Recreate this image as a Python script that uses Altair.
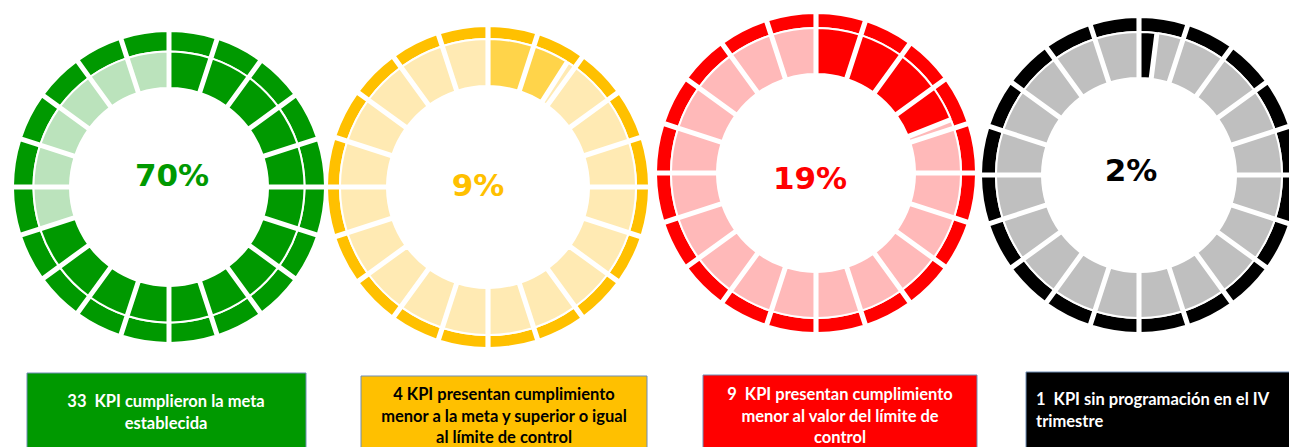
import math
import altair as alt
import pandas as pd

# ---------------- data ----------------
gauges = ["verde", "amarillo", "rojo", "negro"]
pct_values = [70, 9, 19, 2]
pct_labels = ["70%", "9%", "19%", "2%"]
box_texts = [
    "33\u00a0\u00a0KPI cumplieron la meta\nestablecida",
    "4 KPI presentan cumplimiento\nmenor a la meta y superior o igual\nal límite de control",
    "9\u00a0\u00a0KPI presentan cumplimiento\nmenor al valor del límite de\ncontrol",
    "1\u00a0\u00a0KPI sin programación en el IV\ntrimestre",
]
n_segments = 20

# ---------------- styles ----------------
ring_colors = ["#009900", "#FFC000", "#FF0000", "#000000"]
fill_colors = ["#009900", "#FFD44A", "#FF0000", "#000000"]
light_colors = ["#BBE3BC", "#FFEAB3", "#FFB9B9", "#BFBFBF"]
pct_colors = ["#009900", "#FFC000", "#FF0000", "#000000"]
box_fill = ["#009900", "#FFC000", "#FF0000", "#000000"]
box_text_color = ["#FFFFFF", "#000000", "#FFFFFF", "#FFFFFF"]
box_align = ["center", "center", "center", "left"]

# ---------------- layout (page px minus 8px margin) ----------------
M = 8
centers = [(169, 187), (488, 187), (816, 173), (1139, 175)]
inner_r = [99, 101, 99, 97]
split_r = [135.5, 148, 145, 143]
outer_r = [156, 161, 160, 158]
pct_pos = [(172, 177), (478, 187), (810, 180), (1131, 172)]
boxes = [(27, 306, 373, 470), (361, 647, 376, 470), (703, 977, 375, 470), (1026, 1310, 372, 470)]
text_pos = [(166, 402), (504, 395), (840, 395), (1036, 400)]

seg = 2 * math.pi / n_segments
outer_rows, inner_rows = [], []
for g, name in enumerate(gauges):
    cx, cy = centers[g]
    cut = pct_values[g] / 100 * 2 * math.pi
    for i in range(n_segments):
        a0, a1 = i * seg, (i + 1) * seg
        outer_rows.append(dict(g=name, t0=a0, t1=a1, r0=split_r[g], r1=outer_r[g],
                               x=cx - M, y=cy - M, c=ring_colors[g]))
        if cut > a0:
            inner_rows.append(dict(g=name, t0=a0, t1=min(a1, cut), r0=inner_r[g], r1=split_r[g],
                                   x=cx - M, y=cy - M, c=fill_colors[g]))
        if cut < a1:
            inner_rows.append(dict(g=name, t0=max(a0, cut), t1=a1, r0=inner_r[g], r1=split_r[g],
                                   x=cx - M, y=cy - M, c=light_colors[g]))

outer_df = pd.DataFrame(outer_rows)
inner_df = pd.DataFrame(inner_rows)


def arc_layer(df, pad):
    return alt.Chart(df).mark_arc(stroke="white", strokeWidth=2, padAngle=pad).encode(
        x=alt.X("x:Q", scale=None),
        y=alt.Y("y:Q", scale=None),
        theta=alt.Theta("t0:Q", scale=None),
        theta2="t1:Q",
        radius=alt.Radius("r0:Q", scale=None),
        radius2="r1:Q",
        color=alt.Color("c:N", scale=None),
    )


outer_layer = arc_layer(outer_df, 0.0145)
inner_layer = arc_layer(inner_df, 0.0175)

pct_df = pd.DataFrame(dict(
    label=pct_labels,
    x=[p[0] - M for p in pct_pos],
    y=[p[1] - M for p in pct_pos],
    c=pct_colors,
))
pct_layer = alt.Chart(pct_df).mark_text(
    font="DejaVu Sans", fontWeight="bold", fontSize=31, baseline="middle", align="center"
).encode(
    x=alt.X("x:Q", scale=None), y=alt.Y("y:Q", scale=None),
    text="label:N", color=alt.Color("c:N", scale=None),
)

box_df = pd.DataFrame(dict(
    x=[b[0] - M for b in boxes], x2=[b[1] - M for b in boxes],
    y=[b[2] - M for b in boxes], y2=[b[3] - M for b in boxes],
    c=box_fill,
))
box_layer = alt.Chart(box_df).mark_rect(stroke="#6E8DB5", strokeWidth=1).encode(
    x=alt.X("x:Q", scale=None), x2="x2:Q",
    y=alt.Y("y:Q", scale=None), y2="y2:Q",
    color=alt.Color("c:N", scale=None),
)

txt_df = pd.DataFrame(dict(
    t=box_texts,
    x=[p[0] - M for p in text_pos],
    y=[p[1] - M for p in text_pos],
    c=box_text_color,
    a=box_align,
))


def text_layer(align):
    return alt.Chart(txt_df).transform_filter(alt.datum.a == align).mark_text(
        font="Lato", fontWeight="bold", fontSize=16.5, lineBreak="\n", lineHeight=21.5,
        align=align, baseline="middle",
    ).encode(
        x=alt.X("x:Q", scale=None), y=alt.Y("y:Q", scale=None),
        text="t:N", color=alt.Color("c:N", scale=None),
    )


chart = alt.layer(
    outer_layer, inner_layer, pct_layer, box_layer, text_layer("center"), text_layer("left")
).properties(
    width=1281, height=439, padding=0, autosize="none"
).configure_view(stroke=None, clip=True)

chart.save("out.html", embed_options={"renderer": "svg", "actions": False})
